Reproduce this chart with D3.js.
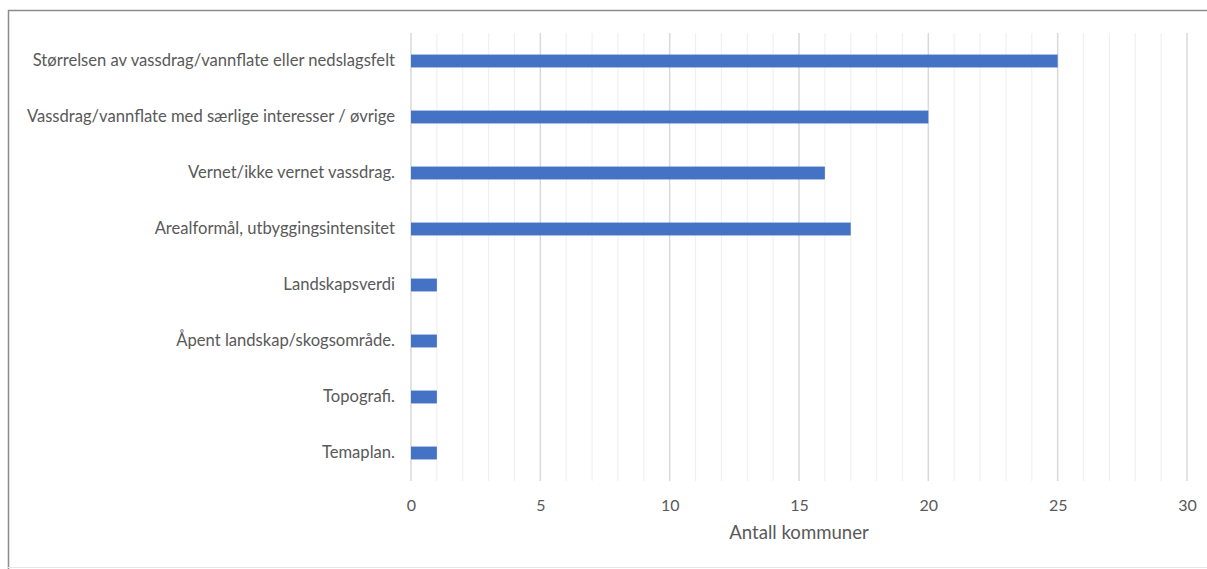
<!DOCTYPE html>
<html>
<head>
<meta charset="utf-8">
<script src="https://cdn.jsdelivr.net/npm/d3@7.9.0/dist/d3.min.js"></script>
<style>
  body { margin: 0; background: #fff; }
  text { font-family: Lato, "Open Sans", sans-serif; fill: #595959; }
</style>
</head>
<body>
<svg width="1207" height="569"></svg>
<script>
const categories = [
  'Størrelsen av vassdrag/vannflate eller nedslagsfelt',
  'Vassdrag/vannflate med særlige interesser / øvrige',
  'Vernet/ikke vernet vassdrag.',
  'Arealformål, utbyggingsintensitet',
  'Landskapsverdi',
  'Åpent landskap/skogsområde.',
  'Topografi.',
  'Temaplan.'
];
const counts = [25, 20, 16, 17, 1, 1, 1, 1];
const majorTicks = [0, 5, 10, 15, 20, 25, 30];
const axisTitle = 'Antall kommuner';

const svg = d3.select('svg');

// outer frame
svg.append('path')
  .attr('d', 'M8.5,569 L8.5,10.5 L1207,10.5')
  .attr('fill', 'none').attr('stroke', '#8c8c8c').attr('stroke-width', 1.5);
svg.append('line')
  .attr('x1', 8).attr('x2', 1207).attr('y1', 567.5).attr('y2', 567.5)
  .attr('stroke', '#e6e6e6');

let x = d3.scaleLinear().domain([0, 30]).range([411, 1187]);
let y = d3.scaleBand().domain(categories).range([33, 481]).paddingInner(0.77).paddingOuter(0.385);

// gridlines, every integer light, every 5 darker
d3.range(0, 31).forEach(v => {
  svg.append('line')
    .attr('x1', x(v)).attr('x2', x(v))
    .attr('y1', 33).attr('y2', 481)
    .attr('stroke', v % 5 === 0 ? '#d9d9d9' : '#f0f0f0')
    .attr('stroke-width', v % 5 === 0 ? 1.5 : 1.2);
});

// bars
svg.selectAll('rect.bar')
  .data(counts)
  .join('rect')
  .attr('class', 'bar')
  .attr('x', x(0))
  .attr('y', (d, i) => y(categories[i]))
  .attr('width', d => x(d) - x(0))
  .attr('height', y.bandwidth())
  .attr('fill', '#4472c4');

// x axis labels
let xAxis = d3.axisBottom(x).tickValues(majorTicks).tickSize(0).tickPadding(0);
let gx = svg.append('g').attr('transform', 'translate(0,511)').call(xAxis);
gx.select('.domain').remove();
gx.selectAll('text').attr('font-size', 16).attr('fill', '#595959')
  .style('font-family', 'Lato, "Open Sans", sans-serif').attr('dy', 0);

// category labels
let yAxis = d3.axisLeft(y).tickSize(0).tickPadding(0);
let gy = svg.append('g').attr('transform', 'translate(395,0)').call(yAxis);
gy.select('.domain').remove();
gy.selectAll('text').attr('font-size', 16.6).attr('fill', '#595959')
  .style('font-family', 'Lato, "Open Sans", sans-serif');

svg.append('text')
  .attr('x', 799).attr('y', 539)
  .attr('text-anchor', 'middle')
  .attr('font-size', 18.6)
  .text(axisTitle);
</script>
</body>
</html>
